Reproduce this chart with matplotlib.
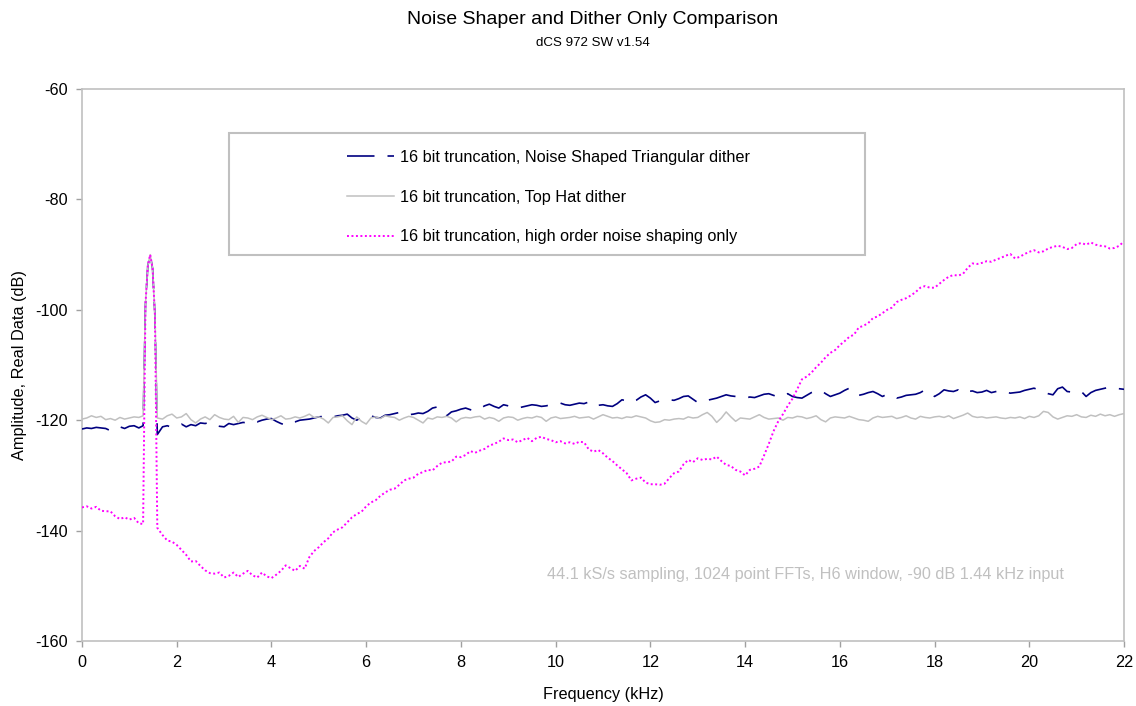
import numpy as np
import matplotlib
matplotlib.use("Agg")
import matplotlib.pyplot as plt
from matplotlib.patches import Rectangle

plt.rcParams['font.family'] = ['Liberation Sans', 'DejaVu Sans']

# Frequency grid (kHz): coarse bins below the tone, fine bins across the 1.44 kHz tone, coarse above
freq_low = np.arange(0.0, 1.25, 0.1)
freq_peak = [1.29, 1.34, 1.39, 1.44, 1.49, 1.54, 1.59]
freq_high = np.arange(1.7, 22.05, 0.1)
freq_khz = np.round(np.concatenate([freq_low, freq_peak, freq_high]), 2)

# 16 bit truncation, noise shaped triangular dither (dB)
ns_tri_low = [-121.6, -121.4, -121.5, -121.3, -121.4, -121.5, -121.9, -121.7, -121.2, -121.5,
              -121.1, -121.0, -121.4]
ns_tri_peak = [-121.0, -99.0, -92.0, -90.0, -92.5, -101.0, -122.6]
ns_tri_high = [
    -121.2, -121.0, -121.3,
    -121.0, -120.7, -121.2, -120.8, -121.0, -120.5, -120.6, -120.4, -120.9, -121.1,
    -121.2, -120.6, -120.8, -120.6, -120.4, -120.5, -120.1, -120.3, -120.0, -119.8,
    -119.7, -120.2, -120.6, -120.9, -120.4, -120.3, -120.0, -119.9, -119.8, -119.6,
    -119.4, -119.3, -119.2, -119.4, -119.2, -119.1, -118.9, -119.6, -120.0, -119.5,
    -119.4, -119.2, -119.5, -119.6, -119.1, -119.0, -118.8, -118.6, -118.7, -119.0,
    -118.9, -118.7, -118.8, -118.4, -117.8, -117.6, -118.6, -119.2, -118.5, -118.3,
    -118.0, -117.8, -118.1, -118.3, -117.9, -117.4, -117.1, -117.5, -117.8, -117.2,
    -117.4, -117.6, -117.8, -117.6, -117.4, -117.2, -117.3, -117.5, -117.4, -117.2,
    -117.0, -116.9, -117.2, -117.3, -117.1, -116.9, -117.0, -116.7, -116.6, -117.3,
    -117.2, -117.4, -117.5, -117.0, -116.3, -116.5, -116.8, -116.4, -115.8, -115.4,
    -116.0, -116.8, -116.5, -116.6, -116.3, -116.4, -116.1, -115.7, -115.6, -116.2,
    -116.8, -116.5, -116.4, -116.2, -116.0, -115.7, -115.4, -115.6, -115.7, -115.9,
    -116.0, -115.8, -115.9, -115.6, -115.3, -115.2, -115.5, -115.8, -115.4, -115.2,
    -115.7, -115.9, -116.0, -115.5, -115.0, -114.7, -114.6, -115.2, -115.7, -115.4,
    -115.1, -114.6, -114.2, -114.8, -115.5, -115.3, -115.0, -114.8, -115.2, -115.7,
    -115.3, -115.6, -116.0, -115.8, -115.5, -115.4, -115.3, -115.0, -114.5, -115.0,
    -115.7, -115.2, -114.5, -114.7, -114.8, -114.5, -115.1, -114.8, -114.7, -115.0,
    -114.9, -114.6, -115.0, -114.8, -114.6, -114.9, -115.1, -115.0, -114.9, -114.6,
    -114.4, -114.2, -114.5, -114.9, -115.2, -115.4, -114.3, -114.0, -114.8, -114.9,
    -114.7, -114.8, -115.7, -115.0, -114.6, -114.4, -114.2, -114.0, -114.2, -114.3,
    -114.4,
]

# 16 bit truncation, top hat dither (dB)
top_hat_low = [-119.8, -119.6, -119.2, -119.5, -119.3, -119.9, -119.7, -120.0, -119.5, -119.8,
               -119.6, -119.4, -119.5]
top_hat_peak = [-119.2, -99.0, -92.0, -90.0, -92.5, -101.0, -119.6]
top_hat_high = [
    -119.8, -119.2, -118.9,
    -119.6, -119.4, -118.8, -119.9, -120.5, -119.8, -119.4, -119.9, -119.0, -119.5,
    -119.8, -119.9, -119.3, -120.4, -119.5, -119.6, -119.9, -119.4, -119.1, -119.5,
    -119.9, -119.6, -119.2, -119.8, -119.7, -119.4, -119.6, -119.3, -118.9, -119.5,
    -119.4, -119.8, -120.5, -119.5, -119.4, -119.2, -120.1, -120.8, -119.4, -120.2,
    -120.7, -119.6, -119.4, -119.7, -119.2, -119.4, -119.5, -120.0, -119.6, -119.3,
    -119.5, -120.0, -120.5, -119.6, -119.8, -119.4, -119.5, -119.3, -119.6, -120.3,
    -119.7, -119.5, -119.6, -119.4, -119.3, -119.8, -119.5, -119.7, -120.2, -119.6,
    -119.4, -119.5, -120.0, -119.7, -119.5, -119.6, -119.3, -119.5, -120.2, -119.6,
    -119.4, -119.7, -119.6, -119.5, -119.3, -119.6, -119.5, -119.4, -119.8, -119.4,
    -119.0, -119.3, -119.6, -119.5, -119.7, -119.4, -119.5, -119.2, -119.4, -119.6,
    -120.1, -120.4, -120.3, -119.9, -120.0, -119.8, -119.7, -119.8, -119.4, -119.6,
    -119.5, -119.0, -118.6, -119.3, -120.4, -119.6, -118.5, -119.4, -120.2, -119.6,
    -119.7, -119.8, -119.4, -119.0, -119.5, -119.8, -119.7, -119.6, -120.0, -119.5,
    -119.6, -119.3, -119.4, -119.7, -119.5, -119.2, -119.9, -120.3, -119.6, -119.4,
    -119.5, -119.6, -119.3, -119.6, -119.9, -120.0, -120.2, -119.6, -119.3, -119.5,
    -119.4, -119.3, -119.7, -119.5, -119.2, -119.6, -119.8, -119.3, -119.5, -119.6,
    -119.4, -119.3, -119.5, -119.2, -119.7, -119.4, -119.1, -118.7, -119.3, -119.5,
    -119.4, -119.6, -119.5, -119.4, -119.6, -119.7, -119.5, -119.6, -119.4, -119.7,
    -119.3, -119.5, -119.2, -118.4, -118.6, -119.4, -119.8, -119.5, -119.2, -119.3,
    -119.0, -119.4, -119.5, -119.1, -119.3, -118.9, -119.2, -119.0, -119.3, -119.0,
    -118.8,
]

# 16 bit truncation, high order noise shaping only (dB)
ns_only_low = [-135.8, -135.6, -136.0, -135.7, -136.4, -136.5, -136.5, -137.4, -137.9, -137.6,
               -138.0, -137.7, -138.7]
ns_only_peak = [-138.8, -99.0, -92.0, -90.0, -92.5, -101.0, -139.5]
ns_only_high = [
    -140.8, -141.8, -142.0,
    -142.6, -143.5, -144.4, -145.6, -145.5, -146.4, -147.2, -147.7, -147.8, -147.6,
    -148.5, -148.2, -147.6, -148.4, -147.8, -147.3, -148.1, -148.5, -147.6, -148.3,
    -148.6, -148.0, -147.3, -146.3, -146.8, -147.3, -146.4, -146.9, -144.8, -143.7,
    -143.0, -142.1, -141.4, -140.3, -139.8, -139.4, -138.5, -137.6, -137.0, -136.6,
    -135.6, -134.9, -134.5, -133.7, -133.1, -132.6, -132.4, -131.7, -130.9, -130.6,
    -130.4, -129.7, -129.4, -129.0, -129.1, -128.3, -127.7, -127.6, -127.5, -126.6,
    -126.7, -126.3, -125.6, -125.9, -125.5, -125.2, -124.6, -124.3, -123.9, -123.3,
    -123.6, -123.5, -124.0, -123.6, -123.2, -123.8, -123.2, -123.0, -123.4, -123.6,
    -124.0, -123.8, -124.2, -124.0, -124.3, -123.9, -124.0, -125.3, -125.7, -125.4,
    -126.0, -126.8, -127.4, -128.2, -128.9, -129.6, -130.9, -130.6, -130.4, -131.3,
    -131.6, -131.6, -131.7, -131.5, -130.5, -129.6, -129.3, -128.0, -127.2, -127.6,
    -126.9, -127.2, -127.0, -127.1, -126.6, -127.4, -128.1, -128.3, -129.0, -129.3,
    -130.0, -129.0, -128.8, -128.4, -126.4, -124.3, -122.0, -120.2, -118.9, -117.4,
    -116.1, -114.4, -112.6, -112.1, -111.4, -110.4, -109.6, -108.6, -107.8, -107.3,
    -106.4, -105.7, -104.9, -104.5, -103.2, -102.9, -102.4, -101.5, -101.2, -100.6,
    -100.0, -99.6, -98.6, -98.2, -97.9, -97.4, -96.8, -96.0, -95.7, -96.0,
    -96.0, -95.3, -94.6, -94.0, -93.7, -93.8, -93.5, -92.4, -91.6, -91.7,
    -91.5, -91.2, -91.3, -90.9, -90.6, -90.2, -89.9, -90.7, -90.4, -89.9,
    -89.5, -89.2, -89.6, -89.4, -88.9, -88.6, -88.4, -88.6, -89.0, -88.8,
    -88.1, -87.9, -88.2, -87.8, -88.2, -88.4, -88.5, -88.9, -88.8, -88.4,
    -87.6,
]

ns_tri = ns_tri_low + ns_tri_peak + ns_tri_high
top_hat = top_hat_low + top_hat_peak + top_hat_high
ns_only = ns_only_low + ns_only_peak + ns_only_high

series_labels = [
    "16 bit truncation, Noise Shaped Triangular dither",
    "16 bit truncation, Top Hat dither",
    "16 bit truncation, high order noise shaping only",
]

x_ticks = np.arange(0, 23, 2)
y_ticks = np.arange(-160, -59, 20)

frame_grey = "#c0c0c0"
fs = 11.7

fig = plt.figure(figsize=(11.36, 7.06), dpi=100)
ax = fig.add_axes([82 / 1136, 1 - 641 / 706, (1124 - 82) / 1136, (641 - 89) / 706])

l1, = ax.plot(freq_khz, ns_tri, color="#000080", lw=1.2,
              linestyle=(0, (16.5, 7.8)), zorder=3, label=series_labels[0])
l2, = ax.plot(freq_khz, top_hat, color="#c0c0c0", lw=1.1, zorder=4,
              label=series_labels[1])
l3, = ax.plot(freq_khz, ns_only, color="#ff00ff", lw=1.4,
              linestyle=(0, (1, 1.3)), zorder=5, label=series_labels[2])

ax.set_xlim(0, 22)
ax.set_ylim(-160, -60)
ax.set_xticks(x_ticks)
ax.set_yticks(y_ticks)
ax.set_xticklabels([str(v) for v in x_ticks])
ax.set_yticklabels([str(v) for v in y_ticks])
ax.tick_params(axis="both", direction="out", length=4, width=1, color="#a0a0a0",
               labelsize=fs, pad=6)
for side in ["left", "right", "top", "bottom"]:
    ax.spines[side].set_color(frame_grey)
    ax.spines[side].set_linewidth(1.2)

ax.set_xlabel("Frequency (kHz)", fontsize=fs, labelpad=12)
ax.set_ylabel("Amplitude, Real Data (dB)", fontsize=fs, labelpad=6)

ax.text(15.27, -148.0, "44.1 kS/s sampling, 1024 point FFTs, H6 window, -90 dB 1.44 kHz input",
        color="#c0c0c0", fontsize=fs, ha="center", va="center")

fig.text(0.5215, 1 - 19 / 706, "Noise Shaper and Dither Only Comparison",
         fontsize=14, ha="center", va="center")
fig.text(0.5215, 1 - 43 / 706, "dCS 972 SW v1.54", fontsize=9.6, ha="center", va="center")

# Legend box drawn as its own rectangle; entries placed inside it
fig.patches.append(Rectangle((229 / 1136, 1 - 255 / 706), (865 - 229) / 1136, (255 - 133) / 706,
                             transform=fig.transFigure, facecolor="white",
                             edgecolor=frame_grey, lw=1.5, zorder=10))
leg = fig.legend(handles=[l1, l2, l3], loc="upper left",
                 bbox_to_anchor=(347 / 1136, 1 - 150 / 706), frameon=False,
                 fontsize=fs, handlelength=2.9, handletextpad=0.35,
                 labelspacing=1.52, borderpad=0, borderaxespad=0)
leg.set_zorder(11)

fig.savefig("out.png", dpi=100, facecolor="white")
